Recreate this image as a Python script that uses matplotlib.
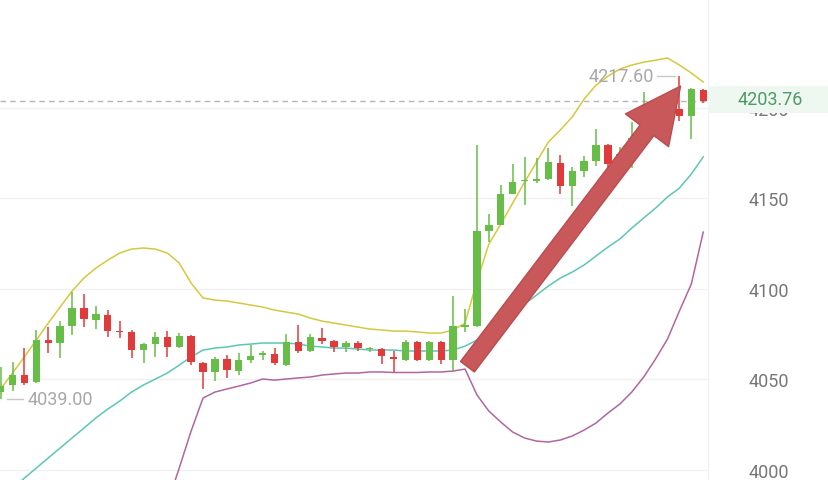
import numpy as np
import matplotlib.pyplot as plt
from matplotlib.patches import Rectangle

plt.rcParams['font.family'] = ['Roboto', 'DejaVu Sans']

# candle data
opens = [4043.0, 4046.7, 4052.2, 4048.3, 4071.5, 4069.9, 4079.3, 4089.2, 4082.6, 4085.4,
         4076.5, 4076.0, 4066.0, 4069.3, 4073.2, 4067.7, 4073.8, 4058.8, 4053.9, 4061.1,
         4054.4, 4060.5, 4063.5, 4063.8, 4057.7, 4070.4, 4065.5, 4072.7, 4071.0, 4067.7,
         4069.9, 4066.4, 4066.6, 4062.2, 4060.5, 4070.4, 4060.5, 4070.4, 4060.5, 4079.0,
         4079.3, 4131.8, 4135.1, 4152.2, 4159.2, 4159.6, 4160.5, 4169.3, 4156.6, 4164.9,
         4170.4, 4179.3, 4170.4, 4173.2, 4182.6, 4185.9, 4191.4, 4199.2, 4195.3, 4209.7]
highs = [4056.5, 4059.4, 4067.1, 4077.1, 4078.7, 4082.0, 4098.1, 4097.0, 4090.3, 4088.1,
         4082.0, 4077.0, 4070.0, 4076.0, 4076.5, 4075.4, 4074.5, 4059.4, 4062.2, 4063.3,
         4064.4, 4068.8, 4065.5, 4067.1, 4074.9, 4079.8, 4074.9, 4078.2, 4071.5, 4071.0,
         4071.0, 4067.7, 4067.0, 4065.5, 4071.5, 4071.0, 4071.0, 4071.0, 4095.9, 4088.7,
         4179.3, 4141.2, 4157.2, 4168.8, 4172.7, 4172.1, 4177.6, 4173.8, 4167.1, 4173.2,
         4188.1, 4180.0, 4178.2, 4192.0, 4208.6, 4196.0, 4202.0, 4217.6, 4211.0, 4210.5]
lows = [4039.0, 4043.4, 4046.7, 4048.0, 4064.4, 4061.6, 4074.3, 4078.7, 4077.6, 4073.2,
        4072.7, 4061.6, 4058.8, 4062.2, 4062.2, 4067.0, 4057.7, 4044.5, 4048.9, 4050.6,
        4052.2, 4058.8, 4060.5, 4057.7, 4057.2, 4064.4, 4065.0, 4069.3, 4064.9, 4064.9,
        4065.5, 4064.9, 4058.3, 4053.9, 4060.0, 4060.0, 4060.0, 4058.3, 4054.4, 4076.0,
        4079.0, 4125.7, 4135.0, 4152.0, 4146.1, 4158.3, 4160.0, 4152.2, 4145.6, 4161.6,
        4167.7, 4164.4, 4167.1, 4166.6, 4180.0, 4183.0, 4188.0, 4192.5, 4182.6, 4202.5]
closes = [4046.0, 4052.2, 4047.8, 4071.5, 4069.9, 4079.3, 4089.2, 4083.2, 4085.9, 4076.5,
          4076.0, 4066.0, 4069.3, 4073.2, 4067.7, 4073.8, 4059.4, 4053.9, 4061.1, 4055.0,
          4060.5, 4062.7, 4063.9, 4058.8, 4070.4, 4065.5, 4073.2, 4071.0, 4067.7, 4069.9,
          4067.1, 4066.8, 4062.7, 4061.1, 4070.4, 4060.5, 4070.4, 4060.5, 4079.3, 4079.5,
          4131.8, 4135.1, 4152.2, 4158.8, 4159.6, 4160.2, 4169.9, 4156.6, 4164.9, 4170.4,
          4179.3, 4168.8, 4174.3, 4183.2, 4189.2, 4192.5, 4199.2, 4195.3, 4210.2, 4203.76]

# bollinger bands
upper = [4044.5, 4053.3, 4062.2, 4071.5, 4080.9, 4089.8, 4098.6, 4105.8, 4111.3, 4115.7,
         4119.6, 4121.8, 4122.4, 4121.8, 4119.6, 4114.1, 4103.0, 4094.8, 4093.6, 4093.1,
         4092.0, 4090.9, 4089.8, 4088.1, 4087.0, 4085.9, 4083.7, 4082.0, 4080.9, 4079.8,
         4078.7, 4077.6, 4077.1, 4076.5, 4076.5, 4076.0, 4075.4, 4075.4, 4077.1, 4080.9,
         4104.1, 4124.6, 4135.6, 4147.2, 4158.8, 4169.9, 4181.0, 4187.6, 4194.8, 4204.7,
         4212.4, 4217.4, 4221.3, 4223.5, 4225.1, 4226.2, 4227.4, 4223.5, 4219.1, 4214.1]
middle = [3983.7, 3989.2, 3995.3, 4000.8, 4006.4, 4011.9, 4017.4, 4022.9, 4028.5, 4033.4,
          4037.8, 4042.8, 4046.7, 4050.0, 4053.3, 4057.7, 4062.2, 4066.0, 4067.1, 4067.7,
          4068.8, 4069.3, 4069.9, 4069.9, 4069.9, 4069.3, 4068.2, 4067.7, 4067.1, 4067.1,
          4066.6, 4066.0, 4066.0, 4066.0, 4065.5, 4065.5, 4065.5, 4065.5, 4066.0, 4068.2,
          4071.5, 4075.4, 4080.4, 4085.9, 4091.4, 4096.4, 4101.4, 4105.8, 4109.1, 4113.0,
          4118.0, 4122.9, 4127.4, 4133.4, 4139.0, 4144.5, 4150.6, 4155.5, 4163.3, 4172.7]
lower_start = 14
lower = [3981.0, 4000.8, 4021.3, 4039.5, 4042.8, 4044.5, 4046.1, 4047.8, 4050.0, 4049.4,
         4050.0, 4050.6, 4051.1, 4052.2, 4052.8, 4053.3, 4053.3, 4053.9, 4053.9, 4053.6,
         4053.6, 4053.6, 4053.9, 4053.9, 4054.4, 4055.5, 4041.2, 4032.3, 4026.2, 4020.7,
         4017.4, 4015.7, 4015.2, 4016.3, 4018.5, 4021.8, 4025.7, 4031.2, 4036.2, 4042.8,
         4051.1, 4061.1, 4072.1, 4087.6, 4102.5, 4131.2]

yticks = [4000, 4050, 4100, 4150, 4200]
last_price = closes[-1]

GREEN = '#66bd47'
RED = '#e03a3a'

fig = plt.figure(figsize=(8.29, 4.81), dpi=100)
ax = fig.add_axes([0, 0, 708 / 829, 1])

o = np.array(opens)
c = np.array(closes)
x = np.arange(len(o))
cols = [GREEN if cc >= oo else RED for oo, cc in zip(o, c)]
body = np.maximum(np.abs(c - o), 0.8)
ax.vlines(x, lows, highs, colors=cols, lw=1.1, zorder=3)
ax.bar(x, body, bottom=np.minimum(o, c), width=0.62, color=cols, zorder=3)

ax.plot(x, upper, color='#d6c83e', lw=1.1, zorder=2)
ax.plot(x, middle, color='#5cc6b6', lw=1.1, zorder=2)
ax.plot(np.arange(lower_start, lower_start + len(lower)), lower, color='#b0669e', lw=1.1, zorder=2)

# current price line
ax.axhline(last_price, color='#b5b5b5', lw=1, ls=(0, (4, 3)), zorder=1)

# high / low markers
hi = int(np.argmax(highs))
ax.plot([hi - 1.9, hi - 0.4], [highs[hi]] * 2, color='#c8c8c8', lw=1)
ax.text(hi - 2.1, highs[hi], f'{highs[hi]:.2f}', ha='right', va='center',
        fontsize=13, color='#a8a8a8')
lo = int(np.argmin(lows))
ax.plot([lo + 0.5, lo + 1.9], [lows[lo]] * 2, color='#c8c8c8', lw=1)
ax.text(lo + 2.3, lows[lo], f'{lows[lo]:.2f}', ha='left', va='center',
        fontsize=13, color='#a8a8a8')

# big arrow
ax.annotate('', xy=(57.1, 4211.9), xytext=(39.2, 4056.8),
            arrowprops=dict(arrowstyle='simple,head_length=4.0,head_width=3.9,tail_width=1.25',
                            mutation_scale=10, fc='#c9585b', ec='#b94c4f', lw=1,
                            joinstyle='round', capstyle='round', shrinkA=0, shrinkB=0),
            zorder=5)

ax.set_xlim(-0.05, 59.4)
ax.set_ylim(3994.2, 4260.0)
ax.set_yticks(yticks)
ax.yaxis.tick_right()
ax.tick_params(axis='y', length=0, pad=29, labelsize=13, labelcolor='#777777')
ax.set_xticks([])
ax.grid(axis='y', color='#f1f1f1', lw=1)
for s in ['top', 'left', 'bottom']:
    ax.spines[s].set_visible(False)
ax.spines['right'].set_color('#eeeeee')

# price tag on the right (covers most of the 4200 label, as in the app)
fig.add_artist(Rectangle((708 / 829, (481 - 114) / 481), 121 / 829, 27 / 481,
                         transform=fig.transFigure, fc='#eef7f0', ec='none', zorder=10))
fig.text(770 / 829, (481 - 100) / 481, f'{last_price:.2f}', ha='center', va='center',
         fontsize=13, color='#4d9a66', zorder=11)

fig.savefig('out.png', dpi=100)
